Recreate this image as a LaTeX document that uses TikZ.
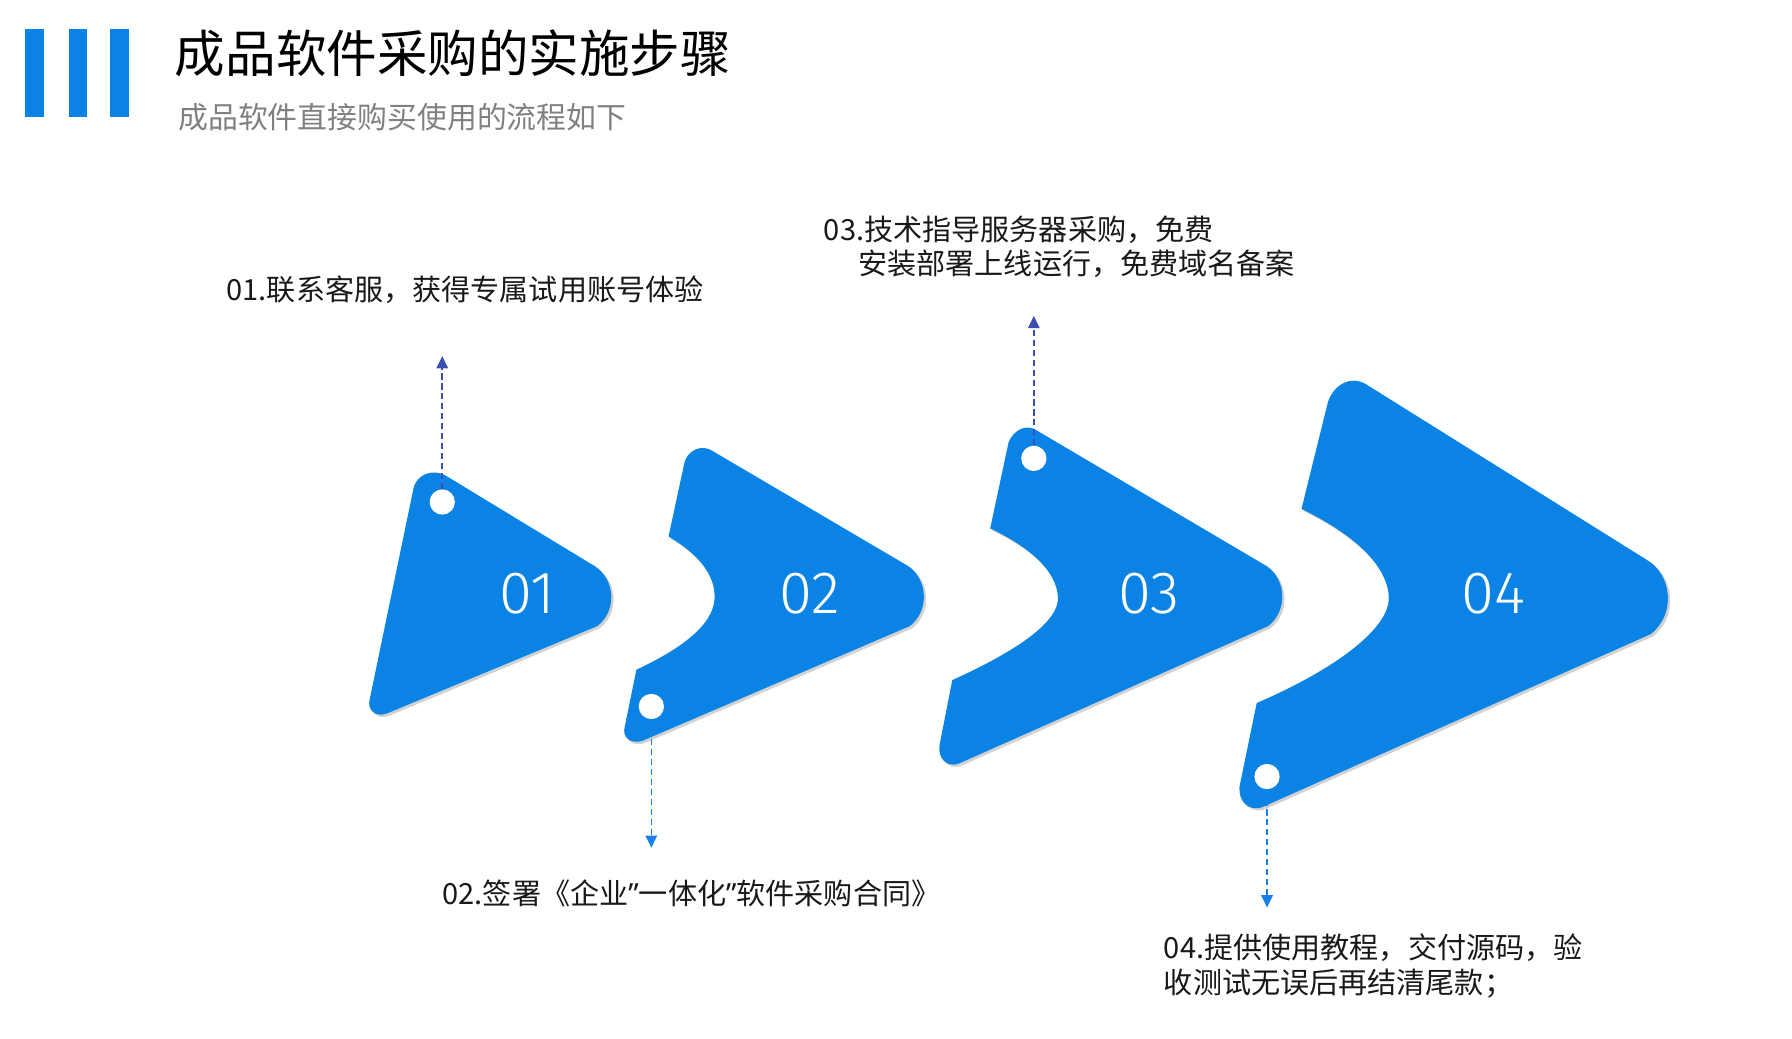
\documentclass[tikz,border=0pt]{standalone}
\usepackage{fontspec}
\setmainfont{Noto Sans CJK SC}
\newfontfamily\lat{Noto Sans}
\newfontfamily\numfont{Fira Sans}[UprightFont={* Light}]
\usetikzlibrary{shadows,arrows.meta}
\definecolor{mblue}{RGB}{11,131,229}
\definecolor{indi}{RGB}{60,78,178}
\definecolor{lblue}{RGB}{24,128,230}
\definecolor{sub}{RGB}{128,128,128}
\definecolor{txt}{RGB}{25,25,25}
\tikzset{
  shp/.style={fill=mblue, drop shadow={shadow xshift=1.5pt, shadow yshift=-1.5pt, opacity=0.18, fill=black}},
  dot/.style={circle, fill=white, minimum size=16.5pt, inner sep=0pt},
  num/.style={text=white, font=\numfont\fontsize{39}{44}\selectfont, inner sep=0pt},
  lab/.style={text=txt, font=\fontsize{19}{22.5}\selectfont, inner sep=0pt, anchor=west, align=left},
  arrA/.style={draw=indi, line width=1pt, dash pattern=on 4pt off 2.5pt, -{Triangle[length=8pt,width=7.5pt]}},
  arrB/.style={draw=lblue, line width=1pt, dash pattern=on 4pt off 2.5pt, -{Triangle[length=8pt,width=7.5pt]}},
  bar/.style={fill=mblue}
}
\begin{document}
\begin{tikzpicture}[x=0.75pt,y=-0.75pt]
\useasboundingbox (0,0) rectangle (1560,904);
% header bars
\fill[bar] (22,25) rectangle (38,102);
\fill[bar] (60,25) rectangle (76,102);
\fill[bar] (96,25) rectangle (112,102);
\node[anchor=west, inner sep=0pt, font=\fontsize{33}{38}\selectfont] (title) at (152,46) {成品软件采购的实施步骤};
\node[anchor=west, inner sep=0pt, text=sub, font=\fontsize{19.5}{23}\selectfont] (subtitle) at (155,102) {成品软件直接购买使用的流程如下};
% shape 01
\path[shp] (388,414) -- (518,493) .. controls (536,505) and (537,532) .. (520,545)
  -- (337,621) .. controls (327,625) and (319,618) .. (322,608)
  -- (360,425) .. controls (363,412) and (378,408) .. (388,414) -- cycle;
% shape 02
\path[shp] (596,402) .. controls (599,392) and (611,386) .. (621,393)
  -- (791,493) .. controls (808,505) and (809,532) .. (792,545)
  -- (559,645) .. controls (549,648) and (541,642) .. (544,632)
  -- (554,583) .. controls (599,562) and (624,540) .. (622,517)
  .. controls (621,497) and (604,480) .. (582,467) -- cycle;
% shape 03
\path[shp] (878,385) .. controls (882,375) and (893,368) .. (903,375)
  -- (1103,493) .. controls (1120,505) and (1121,532) .. (1104,545)
  -- (834,665) .. controls (824,668) and (816,660) .. (818,648)
  -- (829,592) .. controls (889,565) and (922,540) .. (921,520)
  .. controls (920,497) and (896,476) .. (862,460) -- cycle;
% shape 04
\path[shp] (1156,350) .. controls (1161,335) and (1176,326) .. (1190,335)
  -- (1433,487) .. controls (1456,500) and (1459,535) .. (1437,552)
  -- (1098,703) .. controls (1086,706) and (1078,697) .. (1079,685)
  -- (1094,612) .. controls (1168,580) and (1210,545) .. (1209,520)
  .. controls (1208,492) and (1178,465) .. (1133,443) -- cycle;
% numbers
\node[num] (n1) at (459,517) {01};
\node[num] (n2) at (705,517) {02};
\node[num] (n3) at (1000,517) {03};
\node[num] (n4) at (1300,517) {04};
% dots
\node[dot] (c1) at (385,437) {};
\node[dot] (c2) at (567,615) {};
\node[dot] (c3) at (900,399) {};
\node[dot] (c4) at (1103,676) {};
% arrow ends
\coordinate (e1) at (385,310);
\coordinate (e2) at (567,738);
\coordinate (e3) at (900,275);
\coordinate (e4) at (1103,790);
\draw[arrA] (c1.north) -- (e1);
\draw[arrB] (c2.south) -- (e2);
\draw[arrA] (c3.north) -- (e3);
\draw[arrB] (c4.south) -- (e4);
% labels
\node[lab] (l1) at (197,252) {01.联系客服，获得专属试用账号体验};
\node[lab] (l3) at (717,215) {03.技术指导服务器采购，免费\\\hspace*{22.5pt}安装部署上线运行，免费域名备案};
\node[lab] (l2) at (385,778) {02.签署《企业{\lat ”}一体化{\lat ”}软件采购合同》};
\node[lab] (l4) at (1013,841) {04.提供使用教程，交付源码，验\\收测试无误后再结清尾款；};
\end{tikzpicture}
\end{document}
